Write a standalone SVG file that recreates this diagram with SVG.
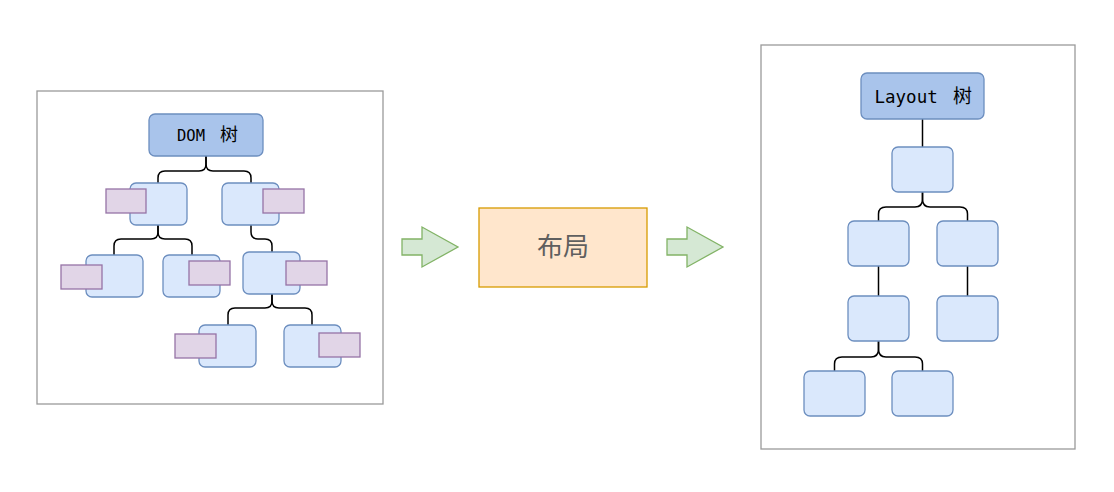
<svg xmlns="http://www.w3.org/2000/svg" width="1114" height="492" viewBox="0 0 1114 492">
<style>
.frame{fill:#ffffff;stroke:#9a9a9a;stroke-width:1.3}
.root{fill:#a9c4eb;stroke:#6c8ebf;stroke-width:1.3}
.node{fill:#dae8fc;stroke:#6c8ebf;stroke-width:1.3}
.tag{fill:#e1d5e7;stroke:#9673a6;stroke-width:1.3}
.arrow{fill:#d5e8d4;stroke:#82b366;stroke-width:1.3}
.edge{fill:none;stroke:#000000;stroke-width:1.5}
.mono{font-family:"DejaVu Sans Mono","Liberation Mono",monospace;fill:#000}
.cjk{font-family:"Noto Sans CJK SC",sans-serif}
</style>
<rect width="1114" height="492" fill="#ffffff"/>
<g id="dom-frame"><rect class="frame" x="37" y="91" width="346" height="313"/></g>
<g id="layout-frame"><rect class="frame" x="761" y="45" width="314" height="404"/></g>

<g id="connectors">
  <path class="edge" d="M206,156 V164 Q206,171 199,171 H165 Q158,171 158,178 V183"/>
  <path class="edge" d="M206,156 V164 Q206,171 213,171 H244 Q251,171 251,178 V183"/>
  <path class="edge" d="M158,225 V232 Q158,239 151,239 H121 Q114,239 114,246 V255"/>
  <path class="edge" d="M158,225 V232 Q158,239 165,239 H185 Q192,239 192,246 V255"/>
  <path class="edge" d="M251,225 V232 Q251,239 258,239 H265 Q272,239 272,246 V252"/>
  <path class="edge" d="M272,294 V301 Q272,308 265,308 H235 Q228,308 228,315 V325"/>
  <path class="edge" d="M272,294 V301 Q272,308 279,308 H305 Q312,308 312,315 V325"/>
  <path class="edge" d="M922.5,119 V147"/>
  <path class="edge" d="M922.5,192 V199 Q922.5,207 915,207 H886 Q878.5,207 878.5,214 V221"/>
  <path class="edge" d="M922.5,192 V199 Q922.5,207 930,207 H960 Q967.5,207 967.5,214 V221"/>
  <path class="edge" d="M878.5,266 V296"/>
  <path class="edge" d="M967.5,266 V296"/>
  <path class="edge" d="M878.5,341 V349 Q878.5,357 871,357 H842 Q834.5,357 834.5,364 V371"/>
  <path class="edge" d="M878.5,341 V349 Q878.5,357 886,357 H915 Q922.5,357 922.5,364 V371"/>
</g>

<g id="dom-root">
  <rect class="root" x="149" y="114" width="114" height="42" rx="6"/>
  <text y="141"><tspan class="mono" x="177" font-size="15.5">DOM</tspan><tspan class="cjk" x="220" font-size="18">树</tspan></text>
</g>
<g id="dom-a"><rect class="node" x="130" y="183" width="57" height="42" rx="6"/><rect class="tag" x="106" y="189" width="40" height="24"/></g>
<g id="dom-b"><rect class="node" x="222" y="183" width="57" height="42" rx="6"/><rect class="tag" x="263" y="189" width="41" height="24"/></g>
<g id="dom-c"><rect class="node" x="86" y="255" width="57" height="42" rx="6"/><rect class="tag" x="61" y="265" width="41" height="24"/></g>
<g id="dom-d"><rect class="node" x="163" y="255" width="57" height="42" rx="6"/><rect class="tag" x="189" y="261" width="41" height="24"/></g>
<g id="dom-e"><rect class="node" x="243" y="252" width="57" height="42" rx="6"/><rect class="tag" x="286" y="261" width="41" height="24"/></g>
<g id="dom-f"><rect class="node" x="199" y="325" width="57" height="42" rx="6"/><rect class="tag" x="175" y="334" width="41" height="24"/></g>
<g id="dom-g"><rect class="node" x="284" y="325" width="57" height="42" rx="6"/><rect class="tag" x="319" y="333" width="41" height="24"/></g>

<g id="arrow-1"><path class="arrow" d="M402,239 H422 V227 L458,247 L422,267 V255 H402 Z"/></g>
<g id="layout-step">
  <rect x="479" y="208" width="168" height="79" fill="#ffe6cc" stroke="#d79b00" stroke-width="1.3"/>
  <text x="563" y="256" text-anchor="middle" class="cjk" font-size="26" fill="#5f5f5f">布局</text>
</g>
<g id="arrow-2"><path class="arrow" d="M667,239 H687 V227 L723,247 L687,267 V255 H667 Z"/></g>

<g id="layout-root">
  <rect class="root" x="861" y="73" width="123" height="46" rx="6"/>
  <text y="103"><tspan class="mono" x="874.5" font-size="17.5">Layout</tspan><tspan class="cjk" x="953" font-size="19">树</tspan></text>
</g>
<g id="lay-1"><rect class="node" x="892" y="147" width="61" height="45" rx="6"/></g>
<g id="lay-2"><rect class="node" x="848" y="221" width="61" height="45" rx="6"/></g>
<g id="lay-3"><rect class="node" x="937" y="221" width="61" height="45" rx="6"/></g>
<g id="lay-4"><rect class="node" x="848" y="296" width="61" height="45" rx="6"/></g>
<g id="lay-5"><rect class="node" x="937" y="296" width="61" height="45" rx="6"/></g>
<g id="lay-6"><rect class="node" x="804" y="371" width="61" height="45" rx="6"/></g>
<g id="lay-7"><rect class="node" x="892" y="371" width="61" height="45" rx="6"/></g>
</svg>
